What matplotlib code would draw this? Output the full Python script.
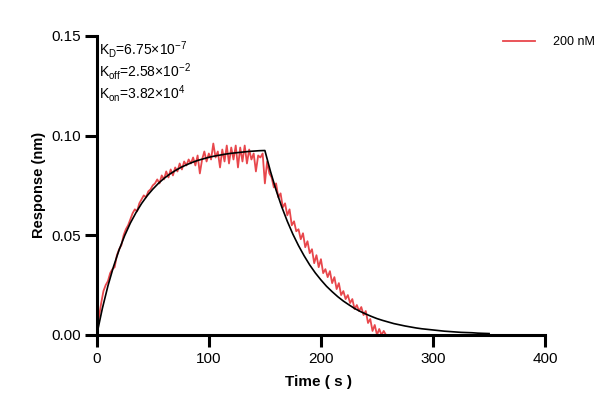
import numpy as np
import matplotlib
matplotlib.use('Agg')
import matplotlib.pyplot as plt

plt.rcParams['font.family'] = ['Liberation Sans', 'DejaVu Sans']
plt.rcParams['mathtext.fontset'] = 'custom'
plt.rcParams['mathtext.rm'] = 'Liberation Sans'
plt.rcParams['mathtext.it'] = 'Liberation Sans:italic'
plt.rcParams['mathtext.bf'] = 'Liberation Sans:bold'

# measured response, 200 nM, sampled every 2 s
t_data = list(range(0, 260, 2))
resp_200 = [
    0.000, 0.009, 0.016, 0.022, 0.025, 0.027, 0.031, 0.033, 0.034, 0.040,
    0.043, 0.045, 0.050, 0.053, 0.055, 0.058, 0.061, 0.063, 0.062, 0.066,
    0.068, 0.070, 0.069, 0.072, 0.073, 0.075, 0.076, 0.078, 0.076, 0.080,
    0.078, 0.082, 0.079, 0.083, 0.080, 0.084, 0.082, 0.086, 0.083, 0.087,
    0.085, 0.088, 0.086, 0.089, 0.085, 0.090, 0.081, 0.088, 0.092, 0.087,
    0.091, 0.088, 0.096, 0.089, 0.092, 0.084, 0.093, 0.087, 0.095, 0.086,
    0.094, 0.088, 0.095, 0.084, 0.094, 0.087, 0.095, 0.086, 0.093, 0.088,
    0.091, 0.082, 0.090, 0.089, 0.091, 0.076, 0.087, 0.081, 0.079, 0.074,
    0.076, 0.069, 0.071, 0.064, 0.066, 0.060, 0.063, 0.055, 0.057, 0.052,
    0.053, 0.048, 0.051, 0.044, 0.047, 0.041, 0.043, 0.036, 0.040, 0.034,
    0.038, 0.031, 0.033, 0.029, 0.032, 0.026, 0.029, 0.023, 0.026, 0.020,
    0.022, 0.018, 0.020, 0.016, 0.018, 0.013, 0.015, 0.012, 0.014, 0.010,
    0.012, 0.006, 0.008, 0.002, 0.005, 0.000, 0.003, 0.000, 0.002, 0.000,
]

# global fit curve, every 5 s
t_fit = list(range(0, 355, 5))
fit_vals = [
    0.0000, 0.0132, 0.0246, 0.0343, 0.0427, 0.0499, 0.0561, 0.0613, 0.0659, 0.0698,
    0.0731, 0.0760, 0.0785, 0.0806, 0.0824, 0.0840, 0.0853, 0.0865, 0.0875, 0.0883,
    0.0891, 0.0897, 0.0902, 0.0907, 0.0911, 0.0914, 0.0917, 0.0920, 0.0922, 0.0924,
    0.0925, 0.0820, 0.0726, 0.0643, 0.0570, 0.0505, 0.0448, 0.0397, 0.0351, 0.0311,
    0.0276, 0.0244, 0.0217, 0.0192, 0.0170, 0.0151, 0.0133, 0.0118, 0.0105, 0.0093,
    0.0082, 0.0073, 0.0065, 0.0057, 0.0051, 0.0045, 0.0040, 0.0035, 0.0031, 0.0028,
    0.0025, 0.0022, 0.0019, 0.0017, 0.0015, 0.0013, 0.0012, 0.0011, 0.0009, 0.0008,
    0.0007,
]

kinetics = [r'K$_\mathrm{D}$=6.75×10$^{-7}$',
            r'K$_\mathrm{off}$=2.58×10$^{-2}$',
            r'K$_\mathrm{on}$=3.82×10$^{4}$']

fig = plt.figure(figsize=(6.16, 4.12), dpi=100)
ax = fig.add_axes([0.157, 0.187, 0.728, 0.726])

ax.plot(t_data, resp_200, color='#e8474c', lw=1.3, label='200 nM')
ax.plot(t_fit, fit_vals, color='black', lw=1.2)

ax.set_xlim(0, 400)
ax.set_ylim(0, 0.15)
ax.set_xticks([0, 100, 200, 300, 400])
ax.set_yticks([0.00, 0.05, 0.10, 0.15])
ax.set_yticklabels(['0.00', '0.05', '0.10', '0.15'])

for s in ['top', 'right']:
    ax.spines[s].set_visible(False)
for s in ['left', 'bottom']:
    ax.spines[s].set_linewidth(2.2)
ax.tick_params(width=2.2, length=8.5, labelsize=11)
ax.tick_params(axis='y', pad=3)
ax.tick_params(axis='x', pad=4)

ax.set_xlabel('Time ( s )', fontsize=11, fontweight='bold')
ax.xaxis.set_label_coords(0.495, -0.135)
ax.set_ylabel('Response (nm)', fontsize=10.5, fontweight='bold')
ax.yaxis.set_label_coords(-0.112, 0.5)

for i, txt in enumerate(kinetics):
    ax.text(0.006, 0.99 - i * 0.0735, txt, transform=ax.transAxes,
            fontsize=10, va='top', ha='left')

fig.legend(loc='center left', bbox_to_anchor=(0.8166, 0.898),
           bbox_transform=fig.transFigure, frameon=False, borderpad=0,
           borderaxespad=0, fontsize=9, handlelength=2.56, handletextpad=1.4)

fig.savefig('out.png', dpi=100)
